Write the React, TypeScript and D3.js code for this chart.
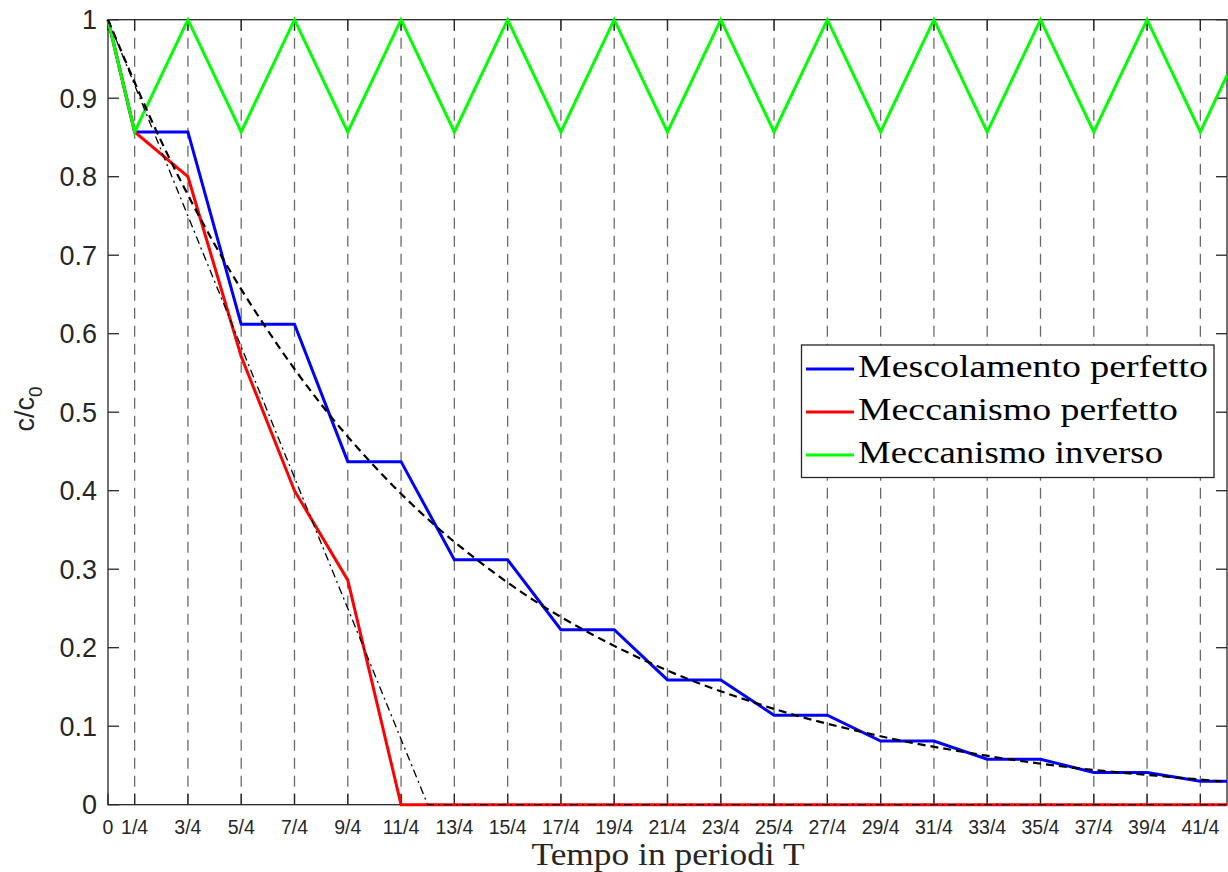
import React from "react";
import * as d3 from "d3";

// Tick positions (in periods T) and their labels
const xTickValues = [0, 0.25, 0.75, 1.25, 1.75, 2.25, 2.75, 3.25, 3.75, 4.25, 4.75, 5.25, 5.75, 6.25, 6.75, 7.25, 7.75, 8.25, 8.75, 9.25, 9.75, 10.25];
const xTickLabels = ["0", "1/4", "3/4", "5/4", "7/4", "9/4", "11/4", "13/4", "15/4", "17/4", "19/4", "21/4", "23/4", "25/4", "27/4", "29/4", "31/4", "33/4", "35/4", "37/4", "39/4", "41/4"];
const yTickValues = [0, 0.1, 0.2, 0.3, 0.4, 0.5, 0.6, 0.7, 0.8, 0.9, 1];
const yTickLabels = ["0", "0.1", "0.2", "0.3", "0.4", "0.5", "0.6", "0.7", "0.8", "0.9", "1"];

// Mescolamento perfetto
const mescolamentoT = [0, 0.25, 0.75, 1.25, 1.75, 2.25, 2.75, 3.25, 3.75, 4.25, 4.75, 5.25, 5.75, 6.25, 6.75, 7.25, 7.75, 8.25, 8.75, 9.25, 9.75, 10.25, 10.5];
const mescolamentoC = [1, 0.857, 0.857, 0.612, 0.612, 0.437, 0.437, 0.312, 0.312, 0.223, 0.223, 0.159, 0.159, 0.114, 0.114, 0.081, 0.081, 0.058, 0.058, 0.041, 0.041, 0.03, 0.03];

// Meccanismo perfetto
const perfettoT = [0, 0.25, 0.75, 1.25, 1.75, 2.25, 2.75, 10.5];
const perfettoC = [1, 0.857, 0.8, 0.571, 0.4, 0.286, 0, 0];

// Meccanismo inverso
const inversoT = [0, 0.25, 0.75, 1.25, 1.75, 2.25, 2.75, 3.25, 3.75, 4.25, 4.75, 5.25, 5.75, 6.25, 6.75, 7.25, 7.75, 8.25, 8.75, 9.25, 9.75, 10.25, 10.5];
const inversoC = [1, 0.857, 1, 0.857, 1, 0.857, 1, 0.857, 1, 0.857, 1, 0.857, 1, 0.857, 1, 0.857, 1, 0.857, 1, 0.857, 1, 0.857, 0.929];

// Continuous reference: exponential decay
const esponenzialeT = [0, 0.5, 1, 1.5, 2, 2.5, 3, 3.5, 4, 4.5, 5, 5.5, 6, 6.5, 7, 7.5, 8, 8.5, 9, 9.5, 10, 10.5];
const esponenzialeC = [1, 0.845, 0.714, 0.604, 0.51, 0.431, 0.364, 0.308, 0.26, 0.22, 0.186, 0.157, 0.133, 0.112, 0.095, 0.08, 0.068, 0.057, 0.048, 0.041, 0.035, 0.029];

// Continuous reference: linear washout
const lineareT = [0, 3, 10.5];
const lineareC = [1, 0, 0];

const legendLabels = ["Mescolamento perfetto", "Meccanismo perfetto", "Meccanismo inverso"];
const legendColors = ["#0000ff", "#ff0000", "#00ff00"];

const W = 1228;
const H = 872;
const left = 108;
const right = 1227;
const top = 19.7;
const bottom = 804.7;
const axisColor = "#262626";
const sans = "'Liberation Sans', Arial, Helvetica, sans-serif";
const serif = "'Liberation Serif', 'Times New Roman', serif";

const x = d3.scaleLinear().domain([0, 10.5]).range([left, right]);
const y = d3.scaleLinear().domain([0, 1]).range([bottom, top]);

function zip(t: number[], c: number[]): [number, number][] {
  return t.map((v, i) => [v, c[i]] as [number, number]);
}

const line = d3
  .line<[number, number]>()
  .x((d) => x(d[0]))
  .y((d) => y(d[1]));
const smooth = d3
  .line<[number, number]>()
  .x((d) => x(d[0]))
  .y((d) => y(d[1]))
  .curve(d3.curveMonotoneX);

export default function App() {
  const series = [
    { t: mescolamentoT, c: mescolamentoC, color: legendColors[0] },
    { t: perfettoT, c: perfettoC, color: legendColors[1] },
    { t: inversoT, c: inversoC, color: legendColors[2] },
  ];
  const legendWidths = [350, 320, 305];
  return (
    <svg
      width={W}
      height={H}
      style={{ position: "absolute", left: 0, top: 0, background: "#fff" }}
    >
      <rect x={0} y={0} width={W} height={H} fill="#fff" />
      {/* vertical dashed grid */}
      {xTickValues.slice(1).map((v) => (
        <line
          key={"g" + v}
          x1={x(v)}
          x2={x(v)}
          y1={top}
          y2={bottom}
          stroke="#6b6b6b"
          strokeWidth={1.3}
          strokeDasharray="11,7"
        />
      ))}
      {/* axes box */}
      <rect x={left} y={top} width={right - left} height={bottom - top} fill="none" stroke={axisColor} strokeWidth={1.3} />
      {yTickValues.map((v) => (
        <g key={"y" + v}>
          <line x1={left} x2={left + 11} y1={y(v)} y2={y(v)} stroke={axisColor} strokeWidth={1.3} />
          <line x1={right - 11} x2={right} y1={y(v)} y2={y(v)} stroke={axisColor} strokeWidth={1.3} />
        </g>
      ))}
      {xTickValues.map((v) => (
        <g key={"x" + v}>
          <line x1={x(v)} x2={x(v)} y1={bottom} y2={bottom - 11} stroke={axisColor} strokeWidth={1.3} />
          <line x1={x(v)} x2={x(v)} y1={top} y2={top + 11} stroke={axisColor} strokeWidth={1.3} />
        </g>
      ))}
      {/* tick labels */}
      {yTickValues.map((v, i) => (
        <text
          key={"yl" + v}
          x={97}
          y={y(v)}
          dy="0.36em"
          textAnchor="end"
          fontFamily={sans}
          fontSize={27}
          fill={axisColor}
        >
          {yTickLabels[i]}
        </text>
      ))}
      {xTickValues.map((v, i) => (
        <text
          key={"xl" + v}
          x={x(v)}
          y={834}
          textAnchor="middle"
          fontFamily={sans}
          fontSize={19.5}
          fill={axisColor}
        >
          {xTickLabels[i]}
        </text>
      ))}
      {/* axis titles */}
      <text x={668} y={865} textAnchor="middle" fontFamily={serif} fontSize={32} fill={axisColor} textLength={273} lengthAdjust="spacingAndGlyphs">
        Tempo in periodi T
      </text>
      <text transform="translate(34,409) rotate(-90)" textAnchor="middle" fontFamily={sans} fontSize={27} fill={axisColor}>
        c/c
        <tspan fontSize={19} dy={8}>0</tspan>
      </text>
      {/* data series */}
      {series.map((s, i) => (
        <path
          key={"s" + i}
          d={line(zip(s.t, s.c)) || ""}
          fill="none"
          stroke={s.color}
          strokeWidth={3}
          strokeLinejoin="miter"
        />
      ))}
      <path d={smooth(zip(esponenzialeT, esponenzialeC)) || ""} fill="none" stroke="#000" strokeWidth={2.2} strokeDasharray="8,5" />
      <path d={line(zip(lineareT, lineareC)) || ""} fill="none" stroke="#000" strokeWidth={1.3} strokeDasharray="8,4,2,4" />
      {/* legend */}
      <g>
        <rect x={801.5} y={345} width={412.5} height={132.5} fill="#fff" stroke={axisColor} strokeWidth={1.3} />
        {legendLabels.map((lab, i) => (
          <g key={lab}>
            <line x1={806} x2={854} y1={369 + i * 43} y2={369 + i * 43} stroke={legendColors[i]} strokeWidth={3} />
            <text
              x={858}
              y={377 + i * 43}
              fontFamily={serif}
              fontSize={31}
              fill="#000"
              textLength={legendWidths[i]}
              lengthAdjust="spacingAndGlyphs"
            >
              {lab}
            </text>
          </g>
        ))}
      </g>
    </svg>
  );
}
